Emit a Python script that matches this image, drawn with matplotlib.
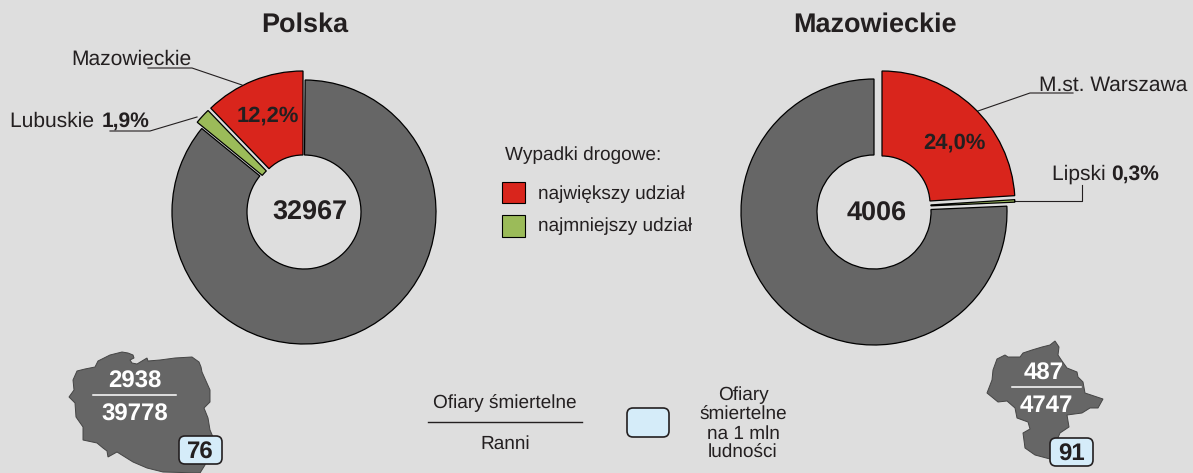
import matplotlib
matplotlib.use("Agg")
import matplotlib.pyplot as plt
from matplotlib.patches import Wedge, Polygon, Rectangle, FancyBboxPatch

plt.rcParams['font.family'] = ['Liberation Sans', 'DejaVu Sans']
plt.rcParams['text.hinting'] = 'none'
plt.rcParams['text.hinting_factor'] = 1

# data
titles = ["Polska", "Mazowieckie"]
totals = ["32967", "4006"]
red_share = [12.2, 24.0]
green_share = [1.9, 0.3]
red_label = ["12,2%", "24,0%"]
deaths = ["2938", "487"]
injured = ["39778", "4747"]
per_million = ["76", "91"]

# map outlines, in reference pixels
poland_x = [122,128,133,134,130,132,137,142,147,148,160,175,192,199,201,202,206,210,210,204,206,208,210,213,205,200,
            163,147,133,117,108,107,103,97,83,83,76,75,69,74,73,77,85,95,98,104,110]
poland_y = [352,353,355,358,360,363,364,361,358,361,360,358,357,362,367,372,381,390,402,408,413,418,430,437,465,473,
            472,468,462,452,457,451,448,443,440,427,417,403,397,390,380,371,369,367,361,358,355]
mazow_x = [1055,1059,1058,1062,1067,1077,1078,1083,1085,1094,1103,1098,1090,1082,1067,1069,1060,1057,1050,1035,1025,1023,
           1030,1028,1017,1015,1007,998,987,992,993,997,1005,1008,1020,1023,1032,1042,1050]
mazow_y = [341,347,355,361,368,372,377,382,393,396,399,408,408,413,415,427,433,440,459,455,448,433,
           429,422,418,408,401,402,393,380,370,359,355,357,357,353,350,347,345]

RED = "#D9251C"
GREEN = "#9BBB59"
GRAY = "#666666"
BG = "#DEDEDE"
INK = "#231F20"
BLUE = "#D5ECF9"


def pct(v):
    return v * 3.6


def ring(ax, cx, cy, r, r_in, a1, a2, color):
    # a1, a2 = degrees clockwise from the top (y axis is flipped)
    ax.add_patch(Wedge((cx, cy), r, a1 - 90, a2 - 90, width=r - r_in, facecolor=color,
                       edgecolor="black", linewidth=0.9, zorder=3))


def small_box(ax, x, y, w, h, txt=None):
    ax.add_patch(FancyBboxPatch((x + 5, y + 5), w - 10, h - 10, boxstyle="round,pad=5,rounding_size=6",
                                facecolor=BLUE, edgecolor=INK, linewidth=1.2, zorder=5))
    if txt:
        ax.text(x + w / 2, y + h / 2 + 3, txt, fontsize=17.5, fontweight="bold", color=INK,
                ha="center", va="center", zorder=6)


fig = plt.figure(figsize=(11.93, 4.73), dpi=100, facecolor=BG)
ax = fig.add_axes([0, 0, 1, 1])
ax.set_xlim(0, 1193)
ax.set_ylim(473, 0)
ax.axis("off")

# left doughnut
a_red = pct(red_share[0])
a_green = pct(green_share[0])
ring(ax, 304, 212, 132, 57, 0.5, 360 - a_red - a_green, GRAY)
ring(ax, 303, 204, 133, 49, -a_red, 0, RED)
ring(ax, 301, 207, 134, 50, -a_red - a_green, -a_red, GREEN)

# right doughnut
a_red = pct(red_share[1])
a_green = pct(green_share[1])
ring(ax, 874, 212, 133, 57, a_red + a_green, 360, GRAY)
ring(ax, 882, 204, 133, 48, 0, a_red, RED)
ring(ax, 882, 208, 133, 49, a_red, a_red + a_green, GREEN)

# titles and centres
ax.text(305, 25, titles[0], fontsize=19.5, fontweight="bold", color=INK, ha="center", va="center")
ax.text(875, 25, titles[1], fontsize=19.5, fontweight="bold", color=INK, ha="center", va="center")
ax.text(310, 213, totals[0], fontsize=19.5, fontweight="bold", color=INK, ha="center", va="center", zorder=6)
ax.text(877, 214, totals[1], fontsize=19.5, fontweight="bold", color=INK, ha="center", va="center", zorder=6)
ax.text(268, 116, red_label[0], fontsize=15.5, fontweight="bold", color=INK, ha="center", va="center", zorder=6)
ax.text(954, 143, red_label[1], fontsize=15.5, fontweight="bold", color=INK, ha="center", va="center", zorder=6)

# callouts
ax.text(71, 59, "Mazowieckie", fontsize=15, color=INK, va="center")
ax.plot([148, 192, 242], [68, 68, 85], color=INK, lw=0.8, zorder=2)
ax.text(10, 121, "Lubuskie ", fontsize=15, color=INK, va="center")
ax.text(102, 121, "1,9%", fontsize=15, fontweight="bold", color=INK, va="center")
ax.plot([110, 150, 197], [131, 131, 117], color=INK, lw=0.8, zorder=2)
ax.text(1039, 85, "M.st. Warszawa", fontsize=15.3, color=INK, va="center")
ax.plot([1073, 1030, 978], [93, 93, 111], color=INK, lw=0.8, zorder=2)
ax.text(1052, 174, "Lipski ", fontsize=15, color=INK, va="center")
ax.text(1111, 174, "0,3%", fontsize=15, fontweight="bold", color=INK, va="center")
ax.plot([1015, 1082, 1082], [201, 201, 185], color=INK, lw=0.8, zorder=2)

# legend
ax.text(505, 155, "Wypadki drogowe:", fontsize=13.4, color=INK, va="center")
ax.add_patch(Rectangle((502, 182), 23, 21, facecolor=RED, edgecolor="black", lw=0.8))
ax.add_patch(Rectangle((502, 215), 23, 22, facecolor=GREEN, edgecolor="black", lw=0.8))
ax.text(538, 194, "największy udział", fontsize=13.4, color=INK, va="center")
ax.text(538, 226, "najmniejszy udział", fontsize=13.4, color=INK, va="center")

# maps
ax.add_patch(Polygon(list(zip(poland_x, poland_y)), closed=True, facecolor=GRAY, edgecolor="#444444", lw=0.7))
ax.add_patch(Polygon(list(zip(mazow_x, mazow_y)), closed=True, facecolor=GRAY, edgecolor="#444444", lw=0.7))
ax.text(135, 382, deaths[0], fontsize=17.5, fontweight="bold", color="white", ha="center", va="center")
ax.plot([93, 176], [395, 395], color="white", lw=1.1)
ax.text(135, 415, injured[0], fontsize=17.5, fontweight="bold", color="white", ha="center", va="center")
ax.text(1044, 374, deaths[1], fontsize=17.5, fontweight="bold", color="white", ha="center", va="center")
ax.plot([1012, 1081], [387, 387], color="white", lw=1.1)
ax.text(1046, 406, injured[1], fontsize=17.5, fontweight="bold", color="white", ha="center", va="center")
small_box(ax, 179, 436, 43, 28, per_million[0])
small_box(ax, 1050, 438, 43, 28, per_million[1])

# key at the bottom
ax.text(505, 403, "Ofiary śmiertelne", fontsize=13.4, color=INK, ha="center", va="center")
ax.plot([428, 582], [422, 422], color=INK, lw=1)
ax.text(505, 444, "Ranni", fontsize=13.4, color=INK, ha="center", va="center")
small_box(ax, 627, 408, 42, 29)
ax.text(743, 424, "Ofiary\nśmiertelne\nna 1 mln\nludności", fontsize=13.4, color=INK, ha="center", va="center",
        linespacing=1.1)

fig.savefig("out.png", dpi=100, facecolor=BG)
